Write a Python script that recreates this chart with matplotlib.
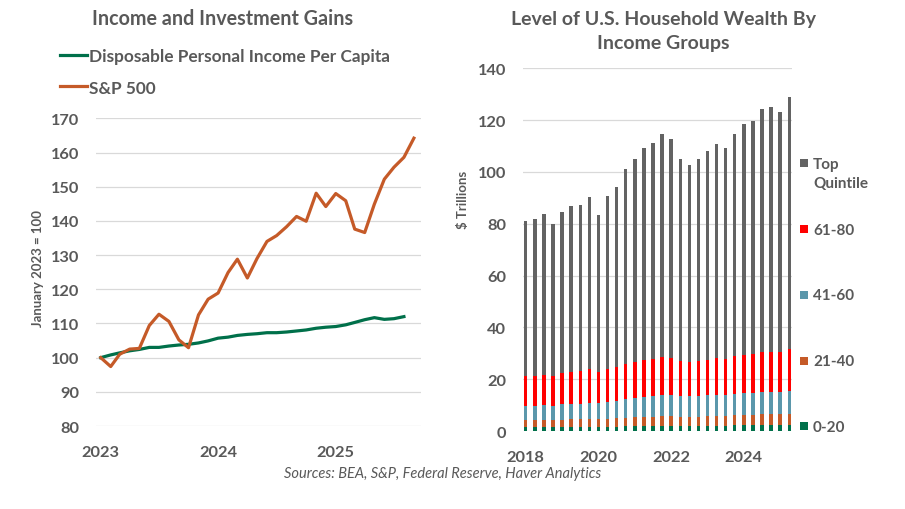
import numpy as np
import pandas as pd
import matplotlib
matplotlib.use('Agg')
import matplotlib.pyplot as plt
import matplotlib.dates as mdates
from matplotlib.patches import Rectangle
from matplotlib.lines import Line2D

plt.rcParams['font.family'] = ['Lato', 'DejaVu Sans']
gris_texto = '#595959'
gris_grid = '#d9d9d9'

# ---- datos panel izquierdo (mensual, ene 2023 = 100)
meses_sp = pd.date_range('2023-01-01', periods=33, freq='MS')
sp500 = [100, 97.4, 101, 102.5, 102.7, 109.4, 112.7, 110.6, 105.2, 102.9, 112.5, 117.1,
         118.9, 124.9, 128.8, 123.3, 129, 134, 135.7, 138.3, 141.3, 139.9, 148.1, 144.2,
         148, 145.9, 137.6, 136.6, 144.9, 152.2, 155.7, 158.6, 164.2]
meses_ing = pd.date_range('2023-01-01', periods=32, freq='MS')
ingreso = [100, 100.8, 101.4, 102, 102.4, 103, 103, 103.4, 103.7, 103.9, 104.3, 104.9,
           105.7, 106, 106.5, 106.8, 107, 107.3, 107.3, 107.5, 107.8, 108.1, 108.6, 108.9,
           109.1, 109.6, 110.3, 111.1, 111.7, 111.2, 111.4, 112]

# ---- datos panel derecho (trimestral, billones de dolares)
trimestres = [a + q / 4 for a in range(2018, 2026) for q in range(4)][:30]
q0_20 = [1.5, 1.5, 1.5, 1.5, 1.5, 1.5, 1.6, 1.6, 1.6, 1.7, 1.7, 1.8, 1.8, 1.9, 1.9,
         2.0, 2.0, 2.0, 2.0, 2.0, 2.0, 2.1, 2.1, 2.2, 2.2, 2.2, 2.3, 2.3, 2.3, 2.3]
q21_40 = [2.6, 2.6, 2.7, 2.6, 2.7, 3.0, 3.0, 3.1, 3.0, 3.1, 3.2, 3.4, 3.5, 3.5, 3.6,
          3.7, 3.7, 3.6, 3.6, 3.6, 3.7, 3.8, 3.7, 3.8, 3.9, 3.9, 4.1, 4.1, 4.2, 4.3]
q41_60 = [5.4, 5.4, 5.9, 5.4, 6.1, 5.8, 5.7, 6.1, 6.2, 6.3, 6.6, 7.2, 7.5, 7.8, 7.9,
          8.1, 8.1, 7.8, 7.8, 7.8, 8.1, 7.9, 8.0, 8.1, 8.5, 8.5, 8.6, 8.6, 8.5, 8.8]
q61_80 = [11.7, 11.7, 11.6, 11.7, 12.2, 12.4, 12.9, 13.2, 11.9, 12.9, 13.3, 13.5, 13.9, 14.3, 14.3,
          14.7, 14.3, 13.7, 13.2, 13.7, 13.7, 14.3, 14.1, 14.8, 14.8, 15.1, 15.5, 15.5, 15.5, 16.3]
q_top = [59.8, 60.6, 62.0, 58.7, 62.2, 64.1, 64.0, 66.3, 60.6, 66.6, 69.3, 75.1, 78.2, 81.9, 83.6,
         86.2, 84.5, 77.8, 76.2, 77.8, 80.5, 82.8, 81.5, 85.6, 89.2, 90.0, 93.9, 94.6, 92.8, 97.3]
grupos = ['0-20', '21-40', '41-60', '61-80', 'Top\nQuintile']
colores = ['#00704a', '#c55a28', '#5b97ab', '#ff0000', '#636363']

fig = plt.figure(figsize=(9.05, 5.1), dpi=100)

# ================= izquierda
ax1 = fig.add_axes([0.106, 0.1627, 0.3588, 0.6033])
ax1.plot(meses_ing, ingreso, color='#00704a', lw=2.3, solid_joinstyle='round')
ax1.plot(meses_sp, sp500, color='#c55a28', lw=2.3, solid_joinstyle='round')
ax1.set_ylim(80, 170)
ax1.set_yticks(range(80, 171, 10))
ax1.set_xlim(pd.Timestamp('2022-12-17'), pd.Timestamp('2025-09-22'))
ax1.xaxis.set_major_locator(mdates.YearLocator())
ax1.xaxis.set_major_formatter(mdates.DateFormatter('%Y'))
ax1.grid(axis='y', color=gris_grid, lw=0.9)
ax1.set_axisbelow(True)
for s in ax1.spines.values():
    s.set_visible(False)
ax1.tick_params(length=0, labelsize=11.8, labelcolor=gris_texto, pad=12)
ax1.tick_params(axis='x', pad=14)
for t in ax1.get_xticklabels() + ax1.get_yticklabels():
    t.set_fontweight('bold')
ax1.text(-0.179, 0.515, 'January 2023 = 100', transform=ax1.transAxes, rotation=90,
         ha='center', va='center', fontsize=9.5, fontweight='bold', color=gris_texto)

fig.text(223 / 905, 1 - 19 / 510, 'Income and Investment Gains', ha='center', va='center',
         fontsize=14.2, fontweight='bold', color=gris_texto)
h1 = [Line2D([], [], color='#00704a', lw=2.3), Line2D([], [], color='#c55a28', lw=2.3)]
leg = fig.legend(h1, ['Disposable Personal Income Per Capita', 'S&P 500'], loc='upper left',
                 bbox_to_anchor=(60 / 905, 1 - 49 / 510), frameon=False, borderpad=0,
                 borderaxespad=0, handlelength=1.55, handletextpad=0.12, labelspacing=0.9,
                 prop={'size': 12.4, 'weight': 'bold'})
for t in leg.get_texts():
    t.set_color(gris_texto)

# ================= derecha
ax2 = fig.add_axes([0.5776, 0.1529, 0.2972, 0.7112])
base = np.zeros(len(trimestres))
for vals, c in zip([q0_20, q21_40, q41_60, q61_80, q_top], colores):
    ax2.bar(trimestres, vals, bottom=base, width=0.095, color=c, linewidth=0)
    base = base + np.array(vals)
ax2.set_ylim(0, 140)
ax2.set_yticks(range(0, 141, 20))
ax2.set_xlim(2017.917, 2025.316)
ax2.set_xticks([2018, 2020, 2022, 2024])
ax2.set_xticklabels(['2018', '2020', '2022', '2024'])
ax2.grid(axis='y', color=gris_grid, lw=0.9)
ax2.set_axisbelow(True)
for s in ax2.spines.values():
    s.set_visible(False)
ax2.tick_params(length=0, labelsize=11.8, labelcolor=gris_texto, pad=12)
ax2.tick_params(axis='x', pad=14)
for t in ax2.get_xticklabels() + ax2.get_yticklabels():
    t.set_fontweight('bold')
ax2.text(-0.222, 0.64, '$ Trillions', transform=ax2.transAxes, rotation=90,
         ha='center', va='center', fontsize=9.5, fontweight='bold', color=gris_texto)

fig.text(663 / 905, 1 - 32 / 510, 'Level of U.S. Household Wealth By\nIncome Groups',
         ha='center', va='center', fontsize=14, fontweight='bold', color=gris_texto,
         linespacing=1.5)

# leyenda derecha hecha a mano (marcador alineado con la primera linea)
y0 = 1 - 164.3 / 510
paso = 65.75 / 510
for i, (g, c) in enumerate(zip(grupos[::-1], colores[::-1])):
    yc = y0 - i * paso
    fig.patches.append(Rectangle((800 / 905, yc - 4 / 510), 8 / 905, 8 / 510,
                                 transform=fig.transFigure, color=c, lw=0))
    fig.text(813 / 905, yc + 6.5 / 510, g, ha='left', va='top', fontsize=11,
             fontweight='bold', color=gris_texto, linespacing=1.45)

fig.text(443 / 905, 1 - 474 / 510, 'Sources: BEA, S&P, Federal Reserve, Haver Analytics',
         ha='center', va='center', fontsize=10.5, style='italic', color=gris_texto)

plt.savefig('out.png', dpi=100)
plt.close()
